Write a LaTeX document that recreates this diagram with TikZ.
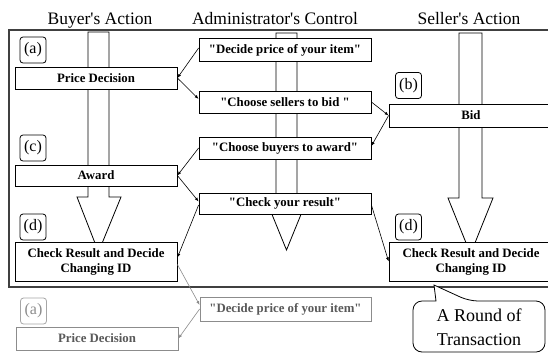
\documentclass[tikz,border=0pt]{standalone}
\usepackage{fontspec}
\setmainfont{Liberation Serif}[Ligatures=TeXOff]
\usetikzlibrary{arrows.meta}
\begin{document}
\begin{tikzpicture}[x=1pt,y=-1pt,
  box/.style={draw, fill=white, line width=0.8pt, inner sep=0pt, font=\fontsize{12.8}{15}\selectfont\bfseries, align=center},
  gbox/.style={box, draw=black!45, text=black!65},
  lab/.style={draw, fill=white, rounded corners=3pt, line width=0.8pt, minimum width=26pt, minimum height=26pt, inner sep=0pt, font=\fontsize{16}{18}\selectfont},
  conn/.style={line width=0.6pt, -{Latex[length=4pt,width=3pt]}},
  gconn/.style={conn, draw=black!45},
  ttl/.style={font=\fontsize{17.5}{20}\selectfont, anchor=base},
  bigarrow/.style={draw, fill=white, line width=0.8pt}
]
\useasboundingbox (0,0) rectangle (548,354);
\clip (0,0) rectangle (548,354);
\fill[white] (0,0) rectangle (548,354);

% titles
\node[ttl] (t1) at (100,24) {Buyer's Action};
\node[ttl] (t2) at (275,24) {Administrator's Control};
\node[ttl] (t3) at (469,24) {Seller's Action};

% frame
\draw[line width=1.1pt, black!75] (9,30) rectangle (556,287);

% big arrows
\draw[bigarrow] (88,32) -- (109,32) -- (109,197) -- (121,197) -- (98.5,252) -- (77,197) -- (88,197) -- cycle;
\draw[bigarrow] (276,33) -- (297,33) -- (297,196) -- (308.5,196) -- (286.5,250) -- (264.5,196) -- (276,196) -- cycle;
\draw[bigarrow] (459,33) -- (482,33) -- (482,198) -- (493,198) -- (470.5,254) -- (448,198) -- (459,198) -- cycle;

% boxes
\node[box, minimum width=162pt, minimum height=22pt] (pd) at (96,78) {Price Decision};
\node[box, minimum width=172pt, minimum height=23pt] (dp) at (285,50) {"Decide price of your item"};
\node[box, minimum width=172pt, minimum height=22pt] (cs) at (285,102) {"Choose sellers to bid\ "};
\node[box, minimum width=164pt, minimum height=23pt] (bid) at (471,115.5) {Bid};
\node[box, minimum width=172pt, minimum height=22pt] (cb) at (285,148) {"Choose buyers to award"};
\node[box, minimum width=162pt, minimum height=21pt] (aw) at (96,175.5) {Award};
\node[box, minimum width=172pt, minimum height=21pt] (cr) at (285,203.5) {"Check your result"};
\node[box, minimum width=162pt, minimum height=39pt] (lcheck) at (96,261.5) {Check Result and Decide\\Changing ID};
\node[box, minimum width=164pt, minimum height=39pt] (rcheck) at (471,261.5) {Check Result and Decide\\Changing ID};

% labels
\node[lab] (la) at (33,50) {(a)};
\node[lab] (lc) at (33,148) {(c)};
\node[lab] (ld) at (33,227) {(d)};
\node[lab] (lb) at (408.5,85.5) {(b)};
\node[lab] (rd) at (408.5,227) {(d)};

% next round (gray)
\node[lab, draw=black!35, text=black!45] (ga) at (33.5,311) {(a)};
\node[gbox, minimum width=162pt, minimum height=23pt] (gpd) at (97,338.5) {Price Decision};
\node[gbox, minimum width=171pt, minimum height=24pt] (gdp) at (285.5,309) {"Decide price of your item"};

% connectors
\draw[conn] ([yshift=2pt]dp.west) -- (pd.east);
\draw[conn] (pd.east) -- ([yshift=3pt]cs.west);
\draw[conn] (cs.east) -- (bid.west);
\draw[conn] (bid.west) -- ([yshift=2pt]cb.east);
\draw[conn] (cb.west) -- (aw.east);
\draw[conn] (aw.east) -- ([yshift=2pt]cr.west);
\draw[conn] ([yshift=-1.5pt]cr.east) -- (rcheck.west);
\draw[conn] ([yshift=-1.5pt]cr.west) -- ([yshift=4pt]lcheck.east);
\draw[gconn] ([yshift=-3pt]lcheck.east) -- ([yshift=4pt]gdp.west);
\draw[gconn] (gdp.west) -- (gpd.east);

% callout
\draw[line width=0.8pt, fill=white] (434,285) -- (436,301) [rounded corners=9pt] -- (413,301) -- (413,352) -- (545,352) -- (545,301) -- (469,301) [sharp corners] -- cycle;
\node[font=\fontsize{18}{24}\selectfont, align=center] (co) at (479,327) {A Round of\\Transaction};
\end{tikzpicture}
\end{document}
